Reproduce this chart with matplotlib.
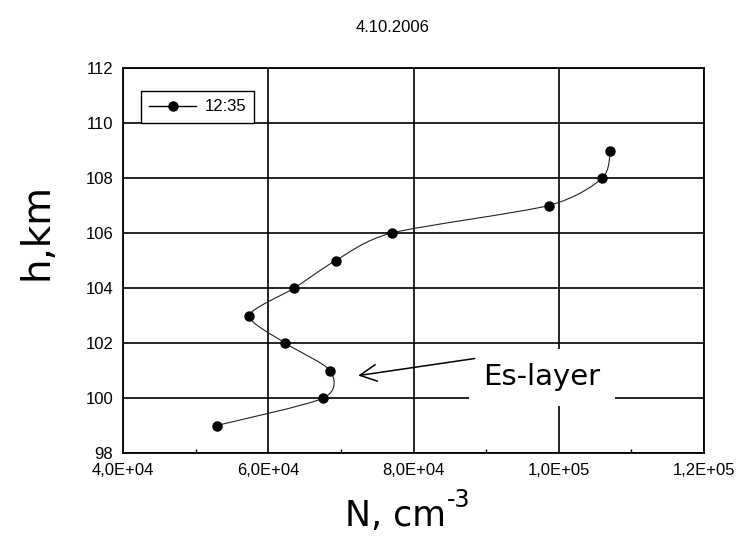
import numpy as np
import matplotlib
matplotlib.use('Agg')
import matplotlib.pyplot as plt
from matplotlib.path import Path
from matplotlib.patches import PathPatch
from matplotlib import ticker

# %% data
height_km = [99, 100, 101, 102, 103, 104, 105, 106, 107, 108, 109]
density = [5.29e4, 6.76e4, 6.85e4, 6.23e4, 5.74e4, 6.36e4,
           6.93e4, 7.70e4, 9.86e4, 1.060e5, 1.071e5]
series_label = '12:35'
title = '4.10.2006'
x_ticks = [4e4, 6e4, 8e4, 1e5, 1.2e5]
x_ticklabels = ['4,0E+04', '6,0E+04', '8,0E+04', '1,0E+05', '1,2E+05']
y_ticks = [98, 100, 102, 104, 106, 108, 110, 112]


def smooth_path(xs, ys, k=1/6):
    # excel style smoothed line: bezier with control points from neighbours
    pts = np.column_stack([xs, ys])
    verts = [pts[0]]
    codes = [Path.MOVETO]
    n = len(pts)
    for i in range(n - 1):
        p0 = pts[i - 1] if i > 0 else pts[i]
        p1 = pts[i]
        p2 = pts[i + 1]
        p3 = pts[i + 2] if i + 2 < n else pts[i + 1]
        c1 = p1 + (p2 - p0) * k
        c2 = p2 - (p3 - p1) * k
        verts += [c1, c2, p2]
        codes += [Path.CURVE4] * 3
    return Path(verts, codes)


# %% plotting
px = 1 / 100
fig = plt.figure(figsize=(743 * px, 547 * px), dpi=100)
ax = fig.add_axes([123 / 743, 1 - 453 / 547, 581 / 743, 385 / 547])

ax.set_xlim(4e4, 1.2e5)
ax.set_ylim(98, 112)
ax.set_xticks(x_ticks)
ax.set_xticklabels(x_ticklabels)
ax.set_yticks(y_ticks)
ax.xaxis.set_minor_locator(ticker.MultipleLocator(1e4))
ax.tick_params(which='major', length=0, labelsize=12, pad=7)
ax.tick_params(axis='x', which='minor', direction='in', length=3, width=1)
ax.tick_params(axis='y', which='minor', length=0)
for lab in ax.get_xticklabels() + ax.get_yticklabels():
    lab.set_family('Liberation Sans')

ax.grid(True, which='major', color='black', linewidth=1.2)
ax.set_axisbelow(True)
for sp in ax.spines.values():
    sp.set_linewidth(1.3)
    sp.set_color('black')

# smoothed curve + markers
ax.add_patch(PathPatch(smooth_path(density, height_km, k=0.13),
                       facecolor='none', edgecolor='#222222', linewidth=0.8,
                       zorder=3))
ax.plot(density, height_km, linestyle='none', marker='o', markersize=6.5,
        color='black', zorder=4)

# legend proxy
ax.plot([], [], color='black', linewidth=1, marker='o', markersize=6.5,
        label=series_label)
leg = ax.legend(loc='upper left', bbox_to_anchor=(0.031, 0.940),
                borderaxespad=0, fancybox=False, framealpha=1,
                edgecolor='black', handlelength=2.8,
                handletextpad=0.5, borderpad=0.5,
                prop={'family': 'Liberation Sans', 'size': 12})
leg.get_frame().set_linewidth(1.0)

# Es-layer annotation
ax.annotate('', xy=(7.2e4, 100.8), xytext=(8.88e4, 101.45),
            arrowprops=dict(arrowstyle='->', color='black', lw=1.1,
                            mutation_scale=30), zorder=6)
ax.text(9.77e4, 100.76, 'Es-layer', fontsize=21, ha='center', va='center',
        family='DejaVu Sans', zorder=5,
        bbox=dict(boxstyle='square,pad=0.5', facecolor='white',
                  edgecolor='none'))

fig.text(393 / 743, 1 - 28 / 547, title, ha='center', va='center',
         fontsize=12, family='Liberation Sans')
fig.text(36 / 743, 1 - 232 / 547, 'h,km', rotation=90, ha='center',
         va='center', fontsize=28, family='DejaVu Sans')
fig.text(446 / 743, 1 - 526 / 547, 'N, cm', ha='right', va='baseline',
         fontsize=25, family='DejaVu Sans')
fig.text(447 / 743, 1 - 507 / 547, '-3', ha='left', va='baseline',
         fontsize=17, family='DejaVu Sans')

fig.savefig('out.png', dpi=100)
